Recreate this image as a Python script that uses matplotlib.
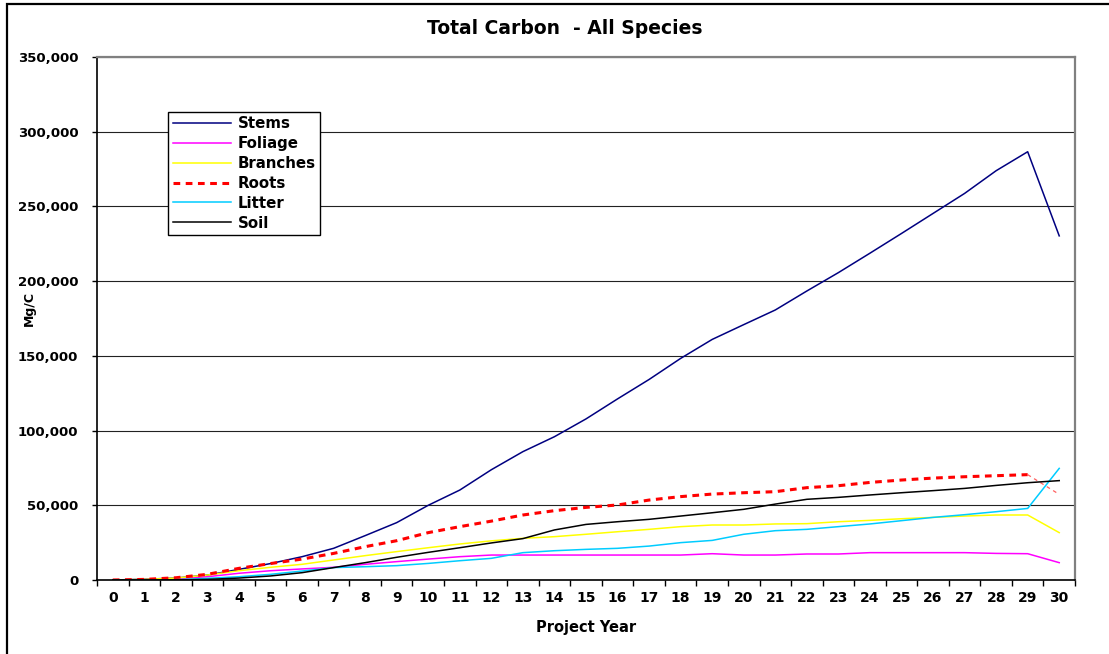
import numpy as np
import matplotlib
matplotlib.use('Agg')
import matplotlib.pyplot as plt
from matplotlib.patches import Rectangle
from matplotlib.ticker import FuncFormatter, FixedLocator

# data (Mg/C by project year)
years = list(range(31))
stems = [0, 500, 1300, 3300, 7100, 11000, 15600, 21200, 29700, 38400,
         50000, 60200, 73800, 85900, 95900, 107800, 121200, 134200, 148300, 161000,
         170900, 180700, 193400, 205700, 218700, 231900, 245300, 258700, 273900, 286600,
         230300]
foliage = [0, 200, 900, 2200, 4500, 6200, 7400, 8500, 10500, 12300,
           14000, 15600, 16700, 16700, 16700, 16700, 16700, 16700, 16700, 17600,
           16700, 16700, 17400, 17400, 18300, 18300, 18300, 18300, 17800, 17600,
           11600]
branches = [0, 400, 1300, 3300, 6200, 8500, 10500, 13400, 16300, 19000,
            21600, 24100, 26200, 27900, 29000, 30600, 32300, 33900, 35700, 36800,
            36800, 37500, 37700, 39000, 39900, 41000, 41900, 42800, 43500, 43500,
            31700]
roots = [0, 400, 1500, 3800, 7800, 11000, 14000, 17800, 22300, 26300,
         31700, 35700, 39400, 43500, 46400, 48600, 50200, 53500, 55800, 57500,
         58400, 59100, 61800, 63100, 65300, 66900, 68200, 69100, 69800, 70500,
         57300]
litter = [0, 0, 200, 1100, 2200, 3800, 6000, 8300, 8900, 9600,
          11100, 12900, 14500, 18300, 19600, 20500, 21200, 22700, 25000, 26500,
          30600, 33000, 33900, 35700, 37500, 39700, 41900, 43700, 45700, 47900,
          74700]
soil = [0, 0, 100, 400, 1300, 2700, 4900, 8300, 11600, 15200,
        18500, 21600, 24800, 27700, 33500, 37200, 39000, 40600, 42800, 45000,
        47300, 50800, 54000, 55300, 56900, 58400, 59800, 61300, 63300, 65100,
        66500]

plt.rcParams['font.family'] = ['DejaVu Sans']
plt.rcParams['font.weight'] = 'bold'

W, H = 1109, 654
fig = plt.figure(figsize=(W / 100, H / 100), dpi=100)
ax = fig.add_axes([97 / W, 1 - 580 / H, (1075 - 97) / W, (580 - 57) / H])

# outer chart frame (bottom / right edges fall outside the image)
fig.patches.append(Rectangle((7 / W, -0.05), 1.05, 1.05 - 4 / H, transform=fig.transFigure,
                             fill=False, edgecolor='black', linewidth=1.6))

ax.plot(years, stems, color='#000080', lw=1.1, label='Stems')
ax.plot(years, foliage, color='#FF00FF', lw=1.1, label='Foliage')
ax.plot(years, branches, color='#FFFF00', lw=1.1, label='Branches')
ax.plot(years[:30], roots[:30], color='#FF0000', lw=2.2, linestyle=(0, (2.2, 1.8)), label='Roots')
# last roots segment is drawn thin in the original
ax.plot(years[29:], roots[29:], color='#FF6060', lw=0.9, linestyle=(0, (3, 3)))
ax.plot(years, litter, color='#00CCFF', lw=1.1, label='Litter')
ax.plot(years, soil, color='black', lw=1.1, label='Soil')

ax.set_xlim(-0.5, 30.5)
ax.set_ylim(0, 350000)

# categories: labels at centres, tick marks on the boundaries
ax.xaxis.set_major_locator(FixedLocator(np.arange(-0.5, 31, 1)))
ax.xaxis.set_minor_locator(FixedLocator(years))
ax.set_xticklabels([])
ax.set_xticklabels([str(y) for y in years], minor=True)
ax.tick_params(axis='x', which='major', direction='out', length=4, width=1, color='black')
ax.tick_params(axis='x', which='minor', length=0, pad=8, labelsize=10)

ax.set_yticks(np.arange(0, 350001, 50000))
ax.yaxis.set_major_formatter(FuncFormatter(lambda v, p: f"{int(v):,}"))
ax.tick_params(axis='y', direction='out', length=3.5, width=1, pad=10, labelsize=9.5)

ax.grid(axis='y', color='#222222', linewidth=0.8)
ax.set_axisbelow(True)

for s in ['left', 'bottom']:
    ax.spines[s].set_color('black')
    ax.spines[s].set_linewidth(1.2)
for s in ['top', 'right']:
    ax.spines[s].set_color('#808080')
    ax.spines[s].set_linewidth(1.6)

ax.set_xlabel('Project Year', fontsize=10.5, fontweight='bold')
ax.xaxis.set_label_coords((586 - 97) / (1075 - 97), -(620 - 580) / (580 - 57))
ax.set_ylabel('Mg/C', fontsize=9, fontweight='bold')
ax.yaxis.set_label_coords(-(97 - 36) / (1075 - 97), (580 - 308) / (580 - 57))

fig.text(565 / W, 1 - 29 / H, 'Total Carbon  - All Species', ha='center', va='center',
         fontsize=13.5, fontweight='bold')

leg = ax.legend(loc='upper left', bbox_to_anchor=(168 / W, 1 - 112 / H),
                bbox_transform=fig.transFigure, fancybox=False, framealpha=1,
                edgecolor='black', fontsize=10.8, handlelength=3.9, handletextpad=0.45,
                labelspacing=0.32, borderpad=0.3, borderaxespad=0)
leg.get_frame().set_linewidth(1.0)

fig.savefig('out.png', dpi=100)
